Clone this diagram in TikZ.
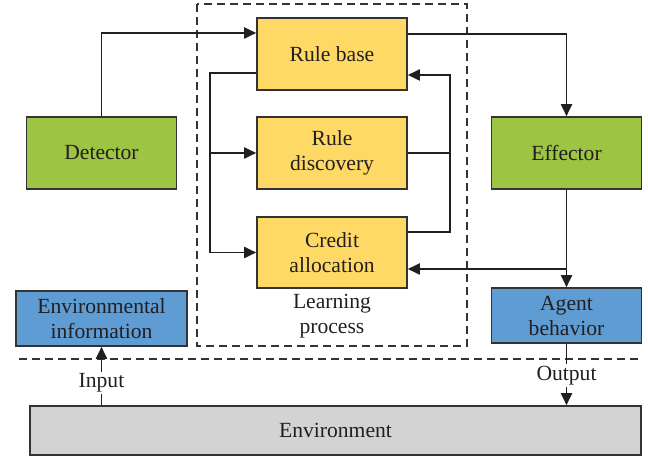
\documentclass[tikz,border=0pt]{standalone}
\usepackage{fontspec}
\setmainfont{Liberation Serif}
\usetikzlibrary{arrows.meta}
\definecolor{ink}{HTML}{231F20}
\definecolor{frame}{HTML}{333333}
\definecolor{boxgreen}{HTML}{9DC443}
\definecolor{boxyellow}{HTML}{FFD966}
\definecolor{boxblue}{HTML}{609CD4}
\definecolor{boxgray}{HTML}{D3D3D3}
\tikzset{
  box/.style={draw=frame, line width=0.85pt, text=ink, align=center,
    inner sep=0pt, font=\fontsize{10.8}{12.5}\selectfont},
  greenbox/.style={box, fill=boxgreen, minimum width=75pt, minimum height=36pt},
  yellowbox/.style={box, fill=boxyellow, minimum width=75pt, minimum height=36pt},
  bluebox/.style={box, fill=boxblue, minimum height=27.5pt},
  link/.style={draw=ink, line width=0.7pt},
  arr/.style={link, -{Triangle[length=6pt,width=5.6pt]}},
  plainlabel/.style={text=ink, align=center, inner sep=1pt,
    font=\fontsize{10.8}{12.5}\selectfont},
  dashline/.style={draw=frame, line width=0.7pt, dash pattern=on 4pt off 2.5pt}
}
\begin{document}
\begin{tikzpicture}[x=0.5pt, y=-0.5pt]
  \useasboundingbox (0,0) rectangle (648,458);

  % learning process frame and environment separator
  \draw[dashline] (197,4) rectangle (467,346);
  \draw[dashline] (19,359) -- (641,359);

  % boxes
  \node[greenbox] (det) at (101.5,153) {Detector};
  \node[greenbox] (eff) at (566.5,153) {Effector};
  \node[yellowbox] (rb) at (332,54) {Rule base};
  \node[yellowbox] (rd) at (332,153) {Rule\\discovery};
  \node[yellowbox, minimum height=35.5pt] (ca) at (332,252.5) {Credit\\allocation};
  \node[bluebox, minimum width=85.5pt] (ei) at (101.5,318.5) {Environmental\\information};
  \node[bluebox, minimum width=75pt] (ab) at (566.5,315.5) {Agent\\behavior};
  \node[box, fill=boxgray, minimum width=305.5pt, minimum height=24.5pt] (env) at (335.5,430.5) {Environment};
  \node[plainlabel] (lp) at (332,316) {Learning\\process};

  % junction points
  \coordinate (lmid) at (210,153);
  \coordinate (rmid) at (450,153);
  \coordinate (ejoin) at (566.5,269);

  % detector to rule base, rule base to effector
  \draw[arr] (det.north) |- ([yshift=10.5pt]rb.west);
  \draw[arr] ([yshift=10pt]rb.east) -| (eff.north);

  % rule base feeding discovery and credit allocation
  \draw[arr] ([yshift=-9.5pt]rb.west) -| (lmid) |- (ca.west);
  \draw[arr] (lmid) -- (rd.west);

  % discovery and credit allocation back to rule base
  \draw[link] (rd.east) -- (rmid);
  \draw[arr] ([yshift=10.25pt]ca.east) -| (rmid) |- ([yshift=-10.5pt]rb.east);

  % effector to agent behavior, feedback to credit allocation
  \draw[arr] (eff.south) -- (ab.north);
  \draw[arr] (ejoin) -- ([yshift=-8.25pt]ca.east);

  % input and output with the environment
  \draw[arr] (ei.south |- env.north) -- node[plainlabel, fill=white, pos=0.38] {Input} (ei.south);
  \draw[arr] (ab.south) -- node[plainlabel, fill=white, pos=0.52] {Output} (ab.south |- env.north);
\end{tikzpicture}
\end{document}
